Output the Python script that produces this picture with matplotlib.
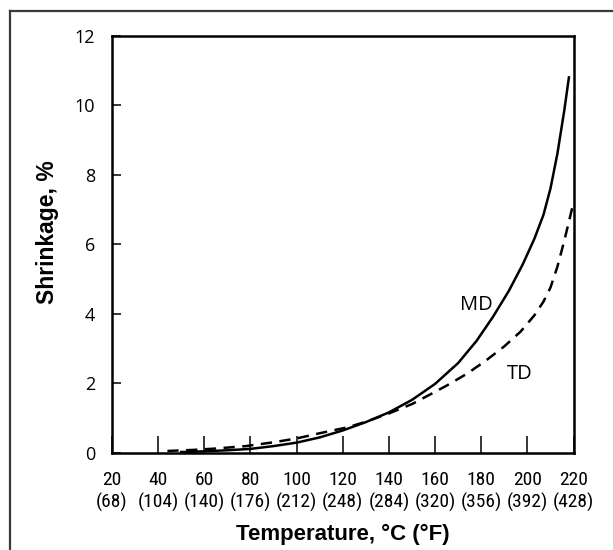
import matplotlib
matplotlib.use("Agg")
import matplotlib.pyplot as plt
from matplotlib import font_manager
from matplotlib.lines import Line2D

# Shrinkage vs temperature, machine (MD) and transverse (TD) directions
temp_md = [50, 60, 70, 80, 90, 100, 110, 120, 130, 140, 150, 160, 170, 178, 185,
           192, 198, 203, 207, 210, 213, 216, 218]
shrink_md = [0.02, 0.04, 0.07, 0.11, 0.19, 0.29, 0.44, 0.64, 0.88, 1.16, 1.52, 1.98, 2.58,
             3.22, 3.9, 4.66, 5.42, 6.15, 6.85, 7.6, 8.6, 9.85, 10.8]

temp_td = [44, 55, 65, 78, 90, 100, 110, 122, 130, 140, 150, 156, 165, 174, 182, 190,
           197, 203, 207, 210, 213, 216, 218, 220]
shrink_td = [0.05, 0.08, 0.12, 0.19, 0.3, 0.41, 0.56, 0.73, 0.89, 1.13, 1.4, 1.61, 1.93,
             2.28, 2.65, 3.06, 3.48, 3.95, 4.35, 4.75, 5.35, 6.1, 6.65, 7.2]

celsius = [20, 40, 60, 80, 100, 120, 140, 160, 180, 200, 220]
fahrenheit = [68, 104, 140, 176, 212, 248, 284, 320, 356, 392, 428]
y_ticks = [0, 2, 4, 6, 8, 10, 12]

# the tick labels in the original are in a condensed face, use one if installed
names = {f.name for f in font_manager.fontManager.ttflist}
tick_font = 'Liberation Sans'
tick_size = 13
for cand in ['Roboto Condensed', 'Liberation Sans Narrow', 'DejaVu Sans Condensed']:
    if cand in names:
        tick_font = cand
        tick_size = 14
        break

fig = plt.figure(figsize=(6.13, 5.5), dpi=100)
ax = fig.add_axes([0.1827, 0.1769, 0.7529, 0.7582])

ax.plot(temp_md, shrink_md, color='black', lw=1.8, solid_joinstyle='round')
ax.plot(temp_td, shrink_td, color='black', lw=1.8, linestyle=(0, (4.5, 3)))

ax.set_xlim(20, 220)
ax.set_ylim(0, 12)

ax.set_xticks(celsius)
ax.set_xticklabels([f"{c}\n({f})" for c, f in zip(celsius, fahrenheit)],
                   fontfamily=tick_font, fontsize=tick_size, linespacing=1.3)
ax.set_yticks(y_ticks)
ax.set_yticklabels([str(v) for v in y_ticks], fontfamily='Open Sans', fontsize=13)

ax.tick_params(axis='x', direction='in', length=12, width=1.1, pad=13)
ax.tick_params(axis='y', direction='in', length=6.5, width=1.1, pad=12)

for s in ax.spines.values():
    s.set_linewidth(1.8)

ax.set_xlabel('Temperature, °C (°F)', fontfamily='Liberation Sans', fontweight='bold', fontsize=16)
ax.xaxis.set_label_coords(0.5005, -0.171)
ax.set_ylabel('Shrinkage, %', fontfamily='Liberation Sans', fontweight='bold', fontsize=16.5)
ax.yaxis.set_label_coords(-0.115, 0.529)

ax.text(177.7, 4.25, 'MD', fontfamily='Open Sans', fontsize=14.5, ha='center', va='center')
ax.text(196.5, 2.26, 'TD', fontfamily='Open Sans', fontsize=14.5, ha='center', va='center')

# outer frame (left and top edges show in the crop)
fig.add_artist(Line2D([10 / 613, 10 / 613], [0, 1 - 11 / 550], color='#3a3a3a', lw=1.6,
                      transform=fig.transFigure))
fig.add_artist(Line2D([10 / 613, 1], [1 - 11 / 550, 1 - 11 / 550], color='#3a3a3a', lw=1.6,
                      transform=fig.transFigure))

fig.savefig('out.png', dpi=100)
